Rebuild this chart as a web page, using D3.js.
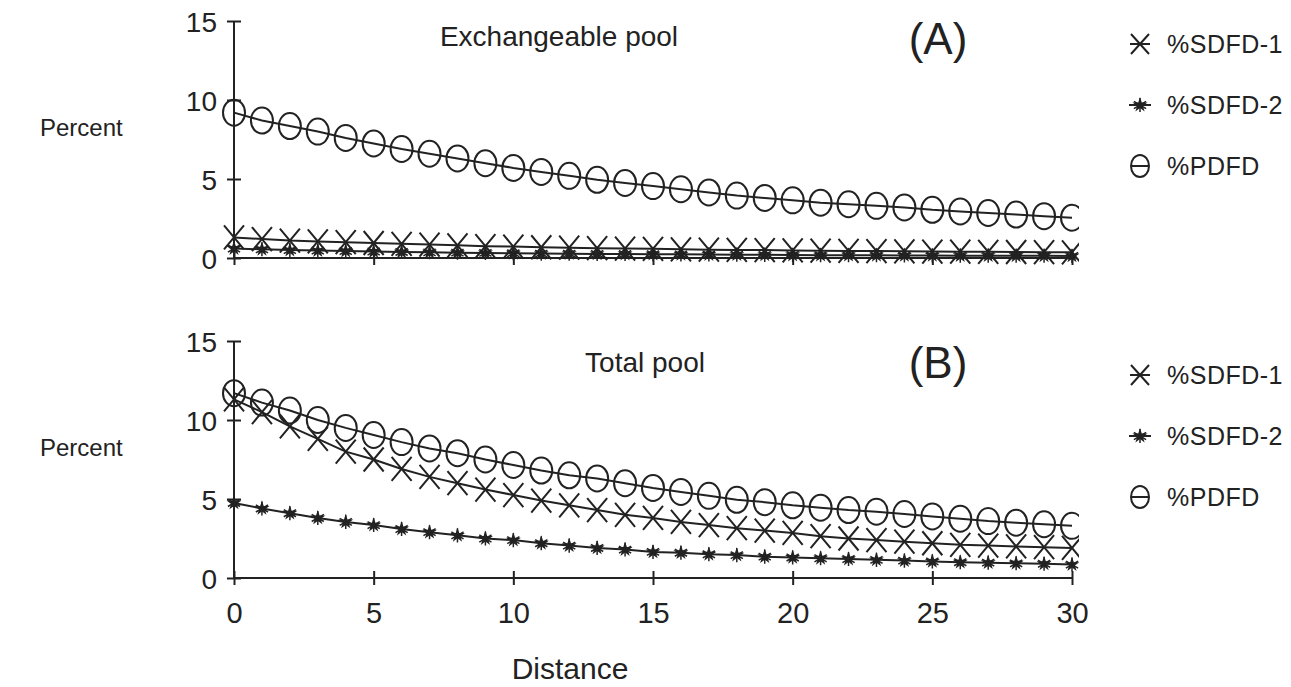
<!DOCTYPE html>
<html>
<head>
<meta charset="utf-8">
<script src="https://cdn.jsdelivr.net/npm/d3@7"></script>
<style>
  body { margin: 0; background: #fff; }
  text { font-family: "Liberation Sans", Arial, sans-serif; fill: #222; }
</style>
</head>
<body>
<div id="chart"></div>
<script>
// distance 0..30
const distance = d3.range(0, 31);

// (A) exchangeable pool
const sdfd1A = [1.3, 1.2, 1.1, 1.05, 1.0, 0.95, 0.9, 0.85, 0.8, 0.75, 0.72, 0.68, 0.65, 0.62, 0.6, 0.58,
                0.55, 0.53, 0.51, 0.5, 0.48, 0.46, 0.45, 0.44, 0.42, 0.41, 0.4, 0.39, 0.38, 0.37, 0.36];
const sdfd2A = [0.6, 0.55, 0.5, 0.47, 0.44, 0.41, 0.38, 0.36, 0.34, 0.32, 0.3, 0.28, 0.27, 0.26, 0.25, 0.24,
                0.23, 0.22, 0.21, 0.2, 0.19, 0.18, 0.18, 0.17, 0.16, 0.16, 0.15, 0.15, 0.14, 0.14, 0.13];
const pdfdA  = [9.2, 8.7, 8.35, 8.0, 7.6, 7.25, 6.9, 6.6, 6.3, 6.0, 5.7, 5.45, 5.2, 4.95, 4.75, 4.55,
                4.35, 4.15, 3.95, 3.8, 3.65, 3.5, 3.4, 3.3, 3.2, 3.05, 2.95, 2.85, 2.75, 2.65, 2.55];

// (B) total pool
const sdfd1B = [11.3, 10.5, 9.6, 8.8, 8.0, 7.5, 6.9, 6.4, 6.0, 5.6, 5.25, 4.9, 4.6, 4.3, 4.0, 3.8,
                3.55, 3.35, 3.15, 3.0, 2.85, 2.65, 2.5, 2.4, 2.3, 2.2, 2.1, 2.05, 2.0, 1.95, 1.9];
const sdfd2B = [4.75, 4.4, 4.1, 3.8, 3.55, 3.35, 3.1, 2.9, 2.7, 2.5, 2.4, 2.2, 2.05, 1.9, 1.8, 1.65,
                1.6, 1.5, 1.45, 1.35, 1.3, 1.25, 1.2, 1.15, 1.1, 1.05, 1.0, 0.97, 0.93, 0.9, 0.85];
const pdfdB  = [11.7, 11.1, 10.6, 10.0, 9.5, 9.05, 8.6, 8.2, 7.9, 7.5, 7.15, 6.8, 6.5, 6.3, 6.0, 5.7,
                5.45, 5.2, 4.95, 4.8, 4.6, 4.45, 4.3, 4.2, 4.05, 3.9, 3.75, 3.6, 3.5, 3.4, 3.3];

const seriesNames = ["%SDFD-1", "%SDFD-2", "%PDFD"];
const xTicks = [0, 5, 10, 15, 20, 25, 30];
const yTicks = [0, 5, 10, 15];

const width = 1291, height = 687;
const ink = "#222";

const svg = d3.select("#chart").append("svg")
  .attr("width", width)
  .attr("height", height);

svg.append("rect").attr("width", width).attr("height", height).attr("fill", "#fff");

const xScale = d3.scaleLinear().domain([0, 30]).range([234, 1072]);

// marker drawers, one per series
const drawMarker = (g, kind) => {
  if (kind === 0) {
    g.append("path")
      .attr("d", "M-10,-12L10,12M-10,12L10,-12")
      .attr("fill", "none").attr("stroke", ink).attr("stroke-width", 2);
  } else if (kind === 1) {
    g.append("path")
      .attr("d", d3.symbol(d3.symbolStar, 70)())
      .attr("fill", ink);
    g.append("path")
      .attr("d", d3.symbol(d3.symbolAsterisk, 140)())
      .attr("fill", "none").attr("stroke", ink).attr("stroke-width", 1.5);
  } else {
    g.append("ellipse")
      .attr("rx", 11).attr("ry", 13)
      .attr("fill", "none").attr("stroke", ink).attr("stroke-width", 2);
  }
};

const drawPanel = (opts) => {
  const { id, top, bottom, series, title, titleX, titleY, tag, tagX, tagY, legendY, showXLabels } = opts;

  const yScale = d3.scaleLinear().domain([0, 15]).range([bottom, top]);
  const g = svg.append("g");

  // clip so the last markers are cut like in the original plot
  svg.append("clipPath").attr("id", "clip-" + id)
    .append("rect")
      .attr("x", 200).attr("y", top - 20)
      .attr("width", xScale(30) + 7 - 200)
      .attr("height", bottom - top + 40);

  // y axis with crossing ticks
  const yAxis = g.append("g")
    .attr("transform", `translate(${xScale(0)},0)`)
    .call(d3.axisLeft(yScale).tickValues(yTicks).tickSize(7).tickPadding(10));
  yAxis.select(".domain").attr("stroke", ink).attr("stroke-width", 2).attr("d", `M0,${bottom}V${top}`);
  yAxis.selectAll(".tick line").attr("x1", 7).attr("x2", -7).attr("stroke", ink).attr("stroke-width", 2);
  yAxis.selectAll(".tick text")
    .style("font-size", "28px").attr("fill", ink).attr("dy", "0.36em");

  // x axis with crossing ticks
  const xAxis = g.append("g")
    .attr("transform", `translate(0,${bottom})`)
    .call(d3.axisBottom(xScale).tickValues(xTicks).tickSize(7).tickPadding(17));
  xAxis.select(".domain").attr("stroke", ink).attr("stroke-width", 2).attr("d", `M${xScale(0)},0H${xScale(30)}`);
  xAxis.selectAll(".tick line").attr("y1", -7).attr("y2", 7).attr("stroke", ink).attr("stroke-width", 2);
  xAxis.selectAll(".tick text")
    .style("font-size", "29px").attr("fill", ink)
    .style("display", showXLabels ? null : "none");

  // lines + markers
  const plot = g.append("g").attr("clip-path", `url(#clip-${id})`);
  const line = d3.line()
    .x((d, i) => xScale(distance[i]))
    .y(d => yScale(d));

  series.forEach((values, k) => {
    plot.append("path")
      .datum(values)
      .attr("d", line)
      .attr("fill", "none")
      .attr("stroke", ink)
      .attr("stroke-width", 2);

    plot.selectAll(null)
      .data(values)
      .join("g")
        .attr("transform", (d, i) => `translate(${xScale(distance[i])},${yScale(d)})`)
        .each(function () { drawMarker(d3.select(this), k); });
  });

  // y label
  g.append("text")
    .attr("x", 40)
    .attr("y", yScale(8.3))
    .attr("dy", "0.36em")
    .style("font-size", "24px")
    .text("Percent");

  // panel title and tag
  g.append("text")
    .attr("x", titleX).attr("y", titleY)
    .attr("text-anchor", "middle")
    .style("font-size", "28px")
    .text(title);

  g.append("text")
    .attr("x", tagX).attr("y", tagY)
    .attr("text-anchor", "middle")
    .style("font-size", "44px")
    .attr("fill", "#333")
    .text(tag);

  // legend
  const legend = g.append("g");
  seriesNames.forEach((name, k) => {
    const row = legend.append("g")
      .attr("transform", `translate(1140,${legendY + k * 61})`);
    const m = row.append("g");
    if (k === 2) {
      m.append("line").attr("x1", -9).attr("x2", 9)
        .attr("stroke", ink).attr("stroke-width", 2);
      m.append("ellipse").attr("rx", 9).attr("ry", 11)
        .attr("fill", "none").attr("stroke", ink).attr("stroke-width", 2);
    } else if (k === 1) {
      m.append("line").attr("x1", -11).attr("x2", 11)
        .attr("stroke", ink).attr("stroke-width", 2);
      drawMarker(m, 1);
    } else {
      m.append("line").attr("x1", -10).attr("x2", 10)
        .attr("stroke", ink).attr("stroke-width", 2);
      m.append("path")
        .attr("d", "M-9,-10L9,10M-9,10L9,-10")
        .attr("fill", "none").attr("stroke", ink).attr("stroke-width", 2);
    }
    row.append("text")
      .attr("x", 27)
      .attr("dy", "0.36em")
      .style("font-size", "25px")
      .style("letter-spacing", "0.5px")
      .text(name);
  });
};

drawPanel({
  id: "a", top: 21, bottom: 258,
  series: [sdfd1A, sdfd2A, pdfdA],
  title: "Exchangeable pool", titleX: 559, titleY: 46,
  tag: "(A)", tagX: 938, tagY: 54,
  legendY: 44, showXLabels: false
});

drawPanel({
  id: "b", top: 341, bottom: 578,
  series: [sdfd1B, sdfd2B, pdfdB],
  title: "Total pool", titleX: 645, titleY: 372,
  tag: "(B)", tagX: 938, tagY: 378,
  legendY: 375, showXLabels: true
});

svg.append("text")
  .attr("x", 570)
  .attr("y", 679)
  .attr("text-anchor", "middle")
  .style("font-size", "30px")
  .text("Distance");
</script>
</body>
</html>
